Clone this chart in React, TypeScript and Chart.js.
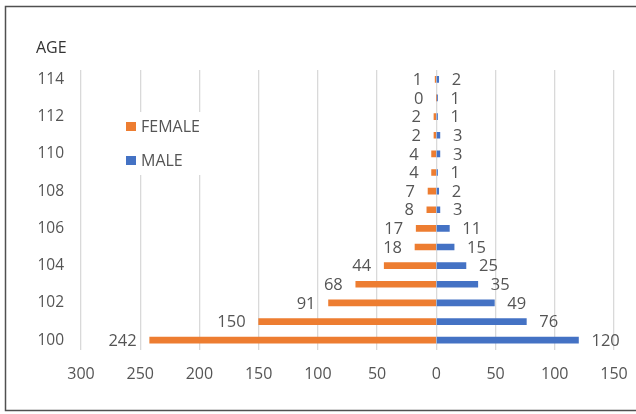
import React, { useEffect, useRef } from "react";
import { Chart, registerables } from "chart.js";

Chart.register(...registerables);

// Population aged 100+ by single year of age
const AGES = ["100", "101", "102", "103", "104", "105", "106", "107", "108", "109", "110", "111", "112", "113", "114"];
const FEMALE = [242, 150, 91, 68, 44, 18, 17, 8, 7, 4, 4, 2, 2, 0, 1];
const MALE = [120, 76, 49, 35, 25, 15, 11, 3, 2, 1, 3, 3, 1, 1, 2];
const X_TICKS = { min: -300, max: 150, step: 50 };

const ORANGE = "#ED7D31";
const BLUE = "#4472C4";
const TEXT = "#555555";
const FONT = "'Open Sans', 'Noto Sans', sans-serif";

const decorations = {
  id: "decorations",
  beforeDatasetsDraw(chart: any) {
    const ctx = chart.ctx;
    ctx.save();
    // legend panel sits over the grid
    ctx.fillStyle = "#ffffff";
    ctx.fillRect(112, 112, 98, 63);
    const items = [
      { label: "FEMALE", color: ORANGE, y: 126.5 },
      { label: "MALE", color: BLUE, y: 160.5 },
    ];
    ctx.font = `16px ${FONT}`;
    ctx.textBaseline = "middle";
    ctx.textAlign = "left";
    for (const it of items) {
      ctx.fillStyle = it.color;
      ctx.fillRect(126, it.y - 4.5, 10, 9);
      ctx.fillStyle = TEXT;
      ctx.fillText(it.label, 141, it.y + 0.5);
    }
    ctx.restore();
  },
  afterDatasetsDraw(chart: any) {
    const ctx = chart.ctx;
    ctx.save();
    ctx.font = `16.5px ${FONT}`;
    ctx.fillStyle = TEXT;
    ctx.textBaseline = "middle";
    chart.data.datasets.forEach((ds: any, di: number) => {
      const meta = chart.getDatasetMeta(di);
      const raw = di === 0 ? FEMALE : MALE;
      meta.data.forEach((bar: any, i: number) => {
        const text = String(raw[i]);
        if (di === 0) {
          ctx.textAlign = "right";
          ctx.fillText(text, bar.x - 13, bar.y + 1);
        } else {
          ctx.textAlign = "left";
          ctx.fillText(text, bar.x + 13, bar.y + 1);
        }
      });
    });
    // axis title
    ctx.font = `16px ${FONT}`;
    ctx.fillStyle = "#333333";
    ctx.textAlign = "left";
    ctx.fillText("AGE", 36, 48);
    // frame
    ctx.strokeStyle = "#505050";
    ctx.lineWidth = 1.5;
    ctx.beginPath();
    ctx.moveTo(640, 6.5);
    ctx.lineTo(5.5, 6.5);
    ctx.lineTo(5.5, 410.5);
    ctx.lineTo(640, 410.5);
    ctx.stroke();
    ctx.restore();
  },
};

export default function App() {
  const ref = useRef<HTMLCanvasElement | null>(null);

  useEffect(() => {
    if (!ref.current) return;
    const chart = new Chart(ref.current, {
      type: "bar",
      data: {
        labels: AGES,
        datasets: [
          { label: "FEMALE", data: FEMALE.map((v) => -v), backgroundColor: ORANGE, barThickness: 6 },
          { label: "MALE", data: MALE, backgroundColor: BLUE, barThickness: 6 },
        ],
      },
      options: {
        indexAxis: "y",
        responsive: false,
        animation: false,
        layout: { padding: { left: 0, right: 22, top: 70, bottom: 0 } },
        plugins: { legend: { display: false }, tooltip: { enabled: false } },
        scales: {
          x: {
            stacked: true,
            min: X_TICKS.min,
            max: X_TICKS.max,
            border: { display: false },
            grid: { color: "#d9d9d9", lineWidth: 1.3, drawTicks: false },
            ticks: {
              stepSize: X_TICKS.step,
              padding: 15,
              color: TEXT,
              font: { family: FONT, size: 16 },
              callback: (v: any) => String(Math.abs(Number(v))),
            },
            afterFit: (s: any) => {
              s.height = 64.5;
              s.paddingLeft = 0;
              s.paddingRight = 0;
            },
          },
          y: {
            stacked: true,
            reverse: true,
            border: { display: false },
            grid: { display: false, drawTicks: false },
            ticks: {
              autoSkip: false,
              padding: 17,
              color: TEXT,
              font: { family: FONT, size: 15.5 },
              callback: (_v: any, i: number) => (i % 2 === 0 ? AGES[i] : ""),
            },
            afterFit: (s: any) => {
              s.width = 81;
            },
          },
        },
      },
      plugins: [decorations],
    });
    return () => chart.destroy();
  }, []);

  return (
    <div style={{ position: "fixed", left: 0, top: 0, width: 636, height: 414, background: "#fff", overflow: "hidden" }}>
      <canvas ref={ref} width={636} height={414} style={{ display: "block" }} />
    </div>
  );
}
